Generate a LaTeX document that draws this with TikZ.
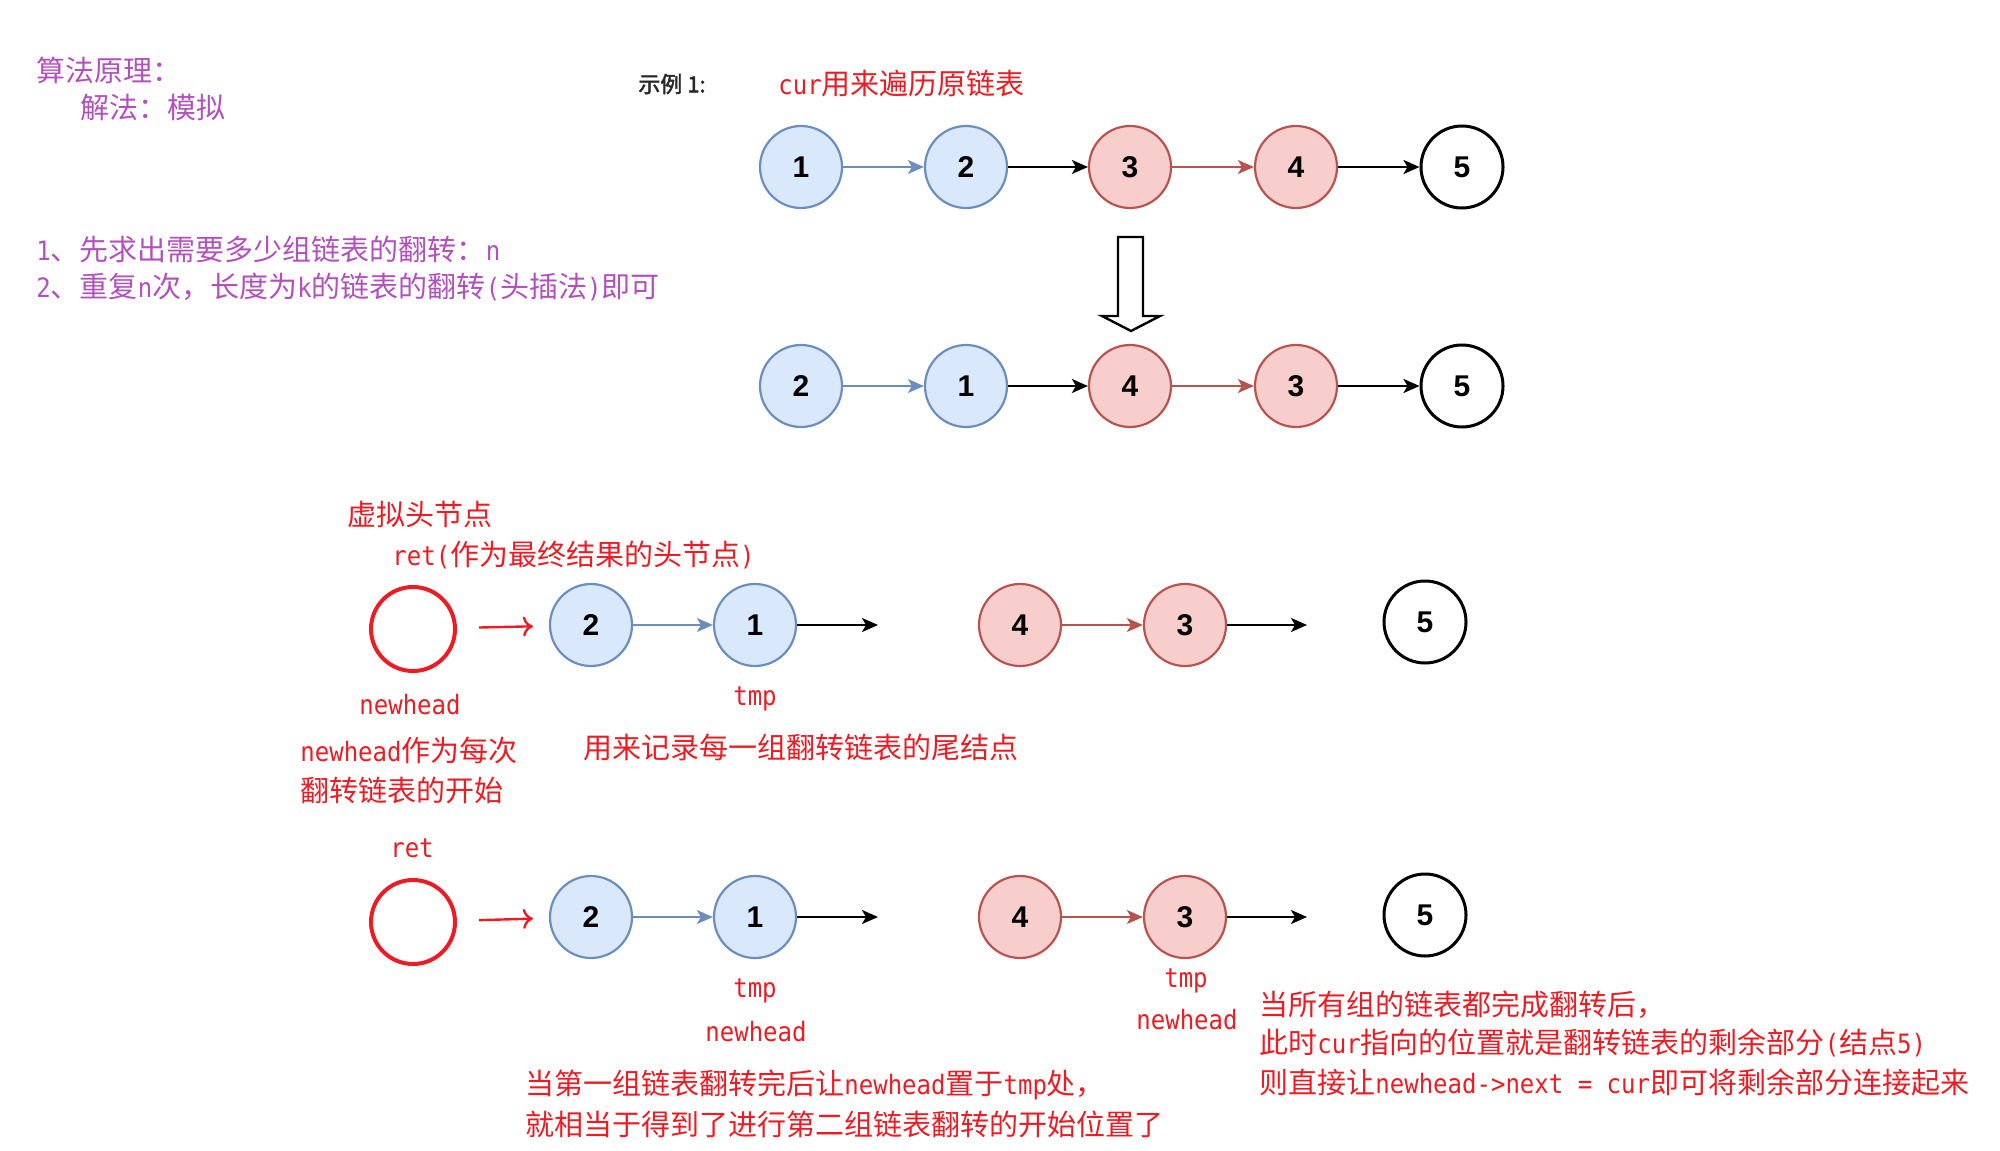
\documentclass[tikz,border=0pt]{standalone}
\usepackage{fontspec}
\setmainfont{Noto Sans CJK SC}
\newfontfamily\numfont{Liberation Sans}
\newfontfamily\boldcjk{Noto Sans CJK SC}[FakeBold=2]
\newfontfamily\lt{DejaVu Sans Mono}[Scale=0.92, FakeStretch=0.9]
\usetikzlibrary{arrows.meta}
\definecolor{bfill}{HTML}{DAE8FC}
\definecolor{bdraw}{HTML}{6C8EBF}
\definecolor{rfill}{HTML}{F8CECC}
\definecolor{rdraw}{HTML}{B85450}
\definecolor{tred}{RGB}{236,28,36}
\definecolor{tpurple}{RGB}{178,80,190}
\definecolor{tgray}{RGB}{40,40,40}
\tikzset{
  nd/.style={circle, minimum size=41pt, inner sep=0pt, line width=1.1pt,
    font=\numfont\bfseries\fontsize{15}{15}\selectfont},
  bnode/.style={nd, fill=bfill, draw=bdraw},
  rnode/.style={nd, fill=rfill, draw=rdraw},
  wnode/.style={nd, fill=white, draw=black, line width=1.5pt},
  hnode/.style={circle, minimum size=42pt, inner sep=0pt, draw=tred, line width=2pt},
  arr/.style={-{Stealth[length=8pt,width=7pt,inset=2pt]}, line width=1.1pt},
  barr/.style={arr, draw=bdraw, fill=bdraw},
  rarr/.style={arr, draw=rdraw, fill=rdraw},
  karr/.style={arr, draw=black, fill=black},
  harr/.style={-{To[length=5pt,width=10pt]}, draw=tred, line width=1.2pt},
  lab/.style={anchor=west, inner sep=0pt, text=tred, font=\fontsize{14.5}{17}\selectfont},
  clab/.style={anchor=center, inner sep=0pt, text=tred, font=\lt\fontsize{14.5}{17}\selectfont},
  plab/.style={anchor=west, inner sep=0pt, text=tpurple, font=\fontsize{14.5}{17}\selectfont},
}
\begin{document}
\begin{tikzpicture}[x=0.5pt, y=-0.5pt]
\useasboundingbox (0,0) rectangle (2000,1150);
% left description
\node[plab] (t1) at (36,70) {算法原理：};
\node[plab] (t2) at (80,108) {解法：模拟};
\node[plab] (t3) at (36,249) {{\lt 1}、先求出需要多少组链表的翻转：{\lt n}};
\node[plab] (t4) at (36,287) {{\lt 2}、重复{\lt n}次，长度为{\lt k}的链表的翻转{\lt (}头插法{\lt )}即可};
% example header
\node[anchor=west, inner sep=0pt, text=tgray, font=\boldcjk\fontsize{11}{13}\selectfont] (ex) at (638,84) {示例 1:};
\node[lab] (cur) at (778,84) {{\lt cur}用来遍历原链表};
% row 1
\node[bnode] (a1) at (801,167) {1};
\node[bnode] (a2) at (966,167) {2};
\node[rnode] (a3) at (1130,167) {3};
\node[rnode] (a4) at (1296,167) {4};
\node[wnode] (a5) at (1462,167) {5};
\draw[barr] (a1) -- (a2);
\draw[karr] (a2) -- (a3);
\draw[rarr] (a3) -- (a4);
\draw[karr] (a4) -- (a5);
% hollow down arrow
\draw[line width=1.2pt, fill=white, line join=miter]
  (1118,237) -- (1143,237) -- (1143,316) -- (1160,316) -- (1131,331)
  -- (1102,316) -- (1118,316) -- cycle;
% row 2
\node[bnode] (b2) at (801,386) {2};
\node[bnode] (b1) at (966,386) {1};
\node[rnode] (b4) at (1130,386) {4};
\node[rnode] (b3) at (1296,386) {3};
\node[wnode] (b5) at (1462,386) {5};
\draw[barr] (b2) -- (b1);
\draw[karr] (b1) -- (b4);
\draw[rarr] (b4) -- (b3);
\draw[karr] (b3) -- (b5);
% row 3
\node[lab] (vl) at (347,514) {虚拟头节点};
\node[lab] (rl) at (392,555) {{\lt ret(}作为最终结果的头节点{\lt )}};
\node[hnode] (h1) at (413,629) {};
\node[bnode] (c2) at (591,625) {2};
\node[bnode] (c1) at (755,625) {1};
\node[rnode] (c4) at (1020,625) {4};
\node[rnode] (c3) at (1185,625) {3};
\node[wnode] (c5) at (1425,622) {5};
\coordinate (ce1) at (878,625);
\coordinate (ce2) at (1307,625);
\draw[harr, shorten <=11pt, shorten >=8pt] (h1) -- (c2);
\draw[barr] (c2) -- (c1);
\draw[karr] (c1) -- (ce1);
\draw[rarr] (c4) -- (c3);
\draw[karr] (c3) -- (ce2);
\node[clab] (nh1) at (410,705) {newhead};
\node[clab] (tp1) at (755,699) {tmp};
\node[lab] (d1) at (300,750) {{\lt newhead}作为每次};
\node[lab] (d2) at (300,790) {翻转链表的开始};
\node[lab] (d3) at (583,747) {用来记录每一组翻转链表的尾结点};
% row 4
\node[clab] (rt) at (412,848) {ret};
\node[hnode] (h2) at (413,922) {};
\node[bnode] (e2) at (591,917) {2};
\node[bnode] (e1) at (755,917) {1};
\node[rnode] (e4) at (1020,917) {4};
\node[rnode] (e3) at (1185,917) {3};
\node[wnode] (e5) at (1425,915) {5};
\coordinate (ee1) at (878,917);
\coordinate (ee2) at (1307,917);
\draw[harr, shorten <=11pt, shorten >=8pt] (h2) -- (e2);
\draw[barr] (e2) -- (e1);
\draw[karr] (e1) -- (ee1);
\draw[rarr] (e4) -- (e3);
\draw[karr] (e3) -- (ee2);
\node[clab] (tp2) at (755,991) {tmp};
\node[clab] (nh2) at (756,1032) {newhead};
\node[clab] (tp3) at (1186,981) {tmp};
\node[clab] (nh3) at (1187,1020) {newhead};
\node[lab] (f1) at (525,1085) {当第一组链表翻转完后让{\lt newhead}置于{\lt tmp}处，};
\node[lab] (f2) at (525,1124) {就相当于得到了进行第二组链表翻转的开始位置了};
\node[lab] (g1) at (1259,1005) {当所有组的链表都完成翻转后，};
\node[lab] (g2) at (1259,1043) {此时{\lt cur}指向的位置就是翻转链表的剩余部分{\lt (}结点{\lt 5)}};
\node[lab] (g3) at (1259,1082) {则直接让{\lt newhead->next = cur}即可将剩余部分连接起来};
\end{tikzpicture}
\end{document}
